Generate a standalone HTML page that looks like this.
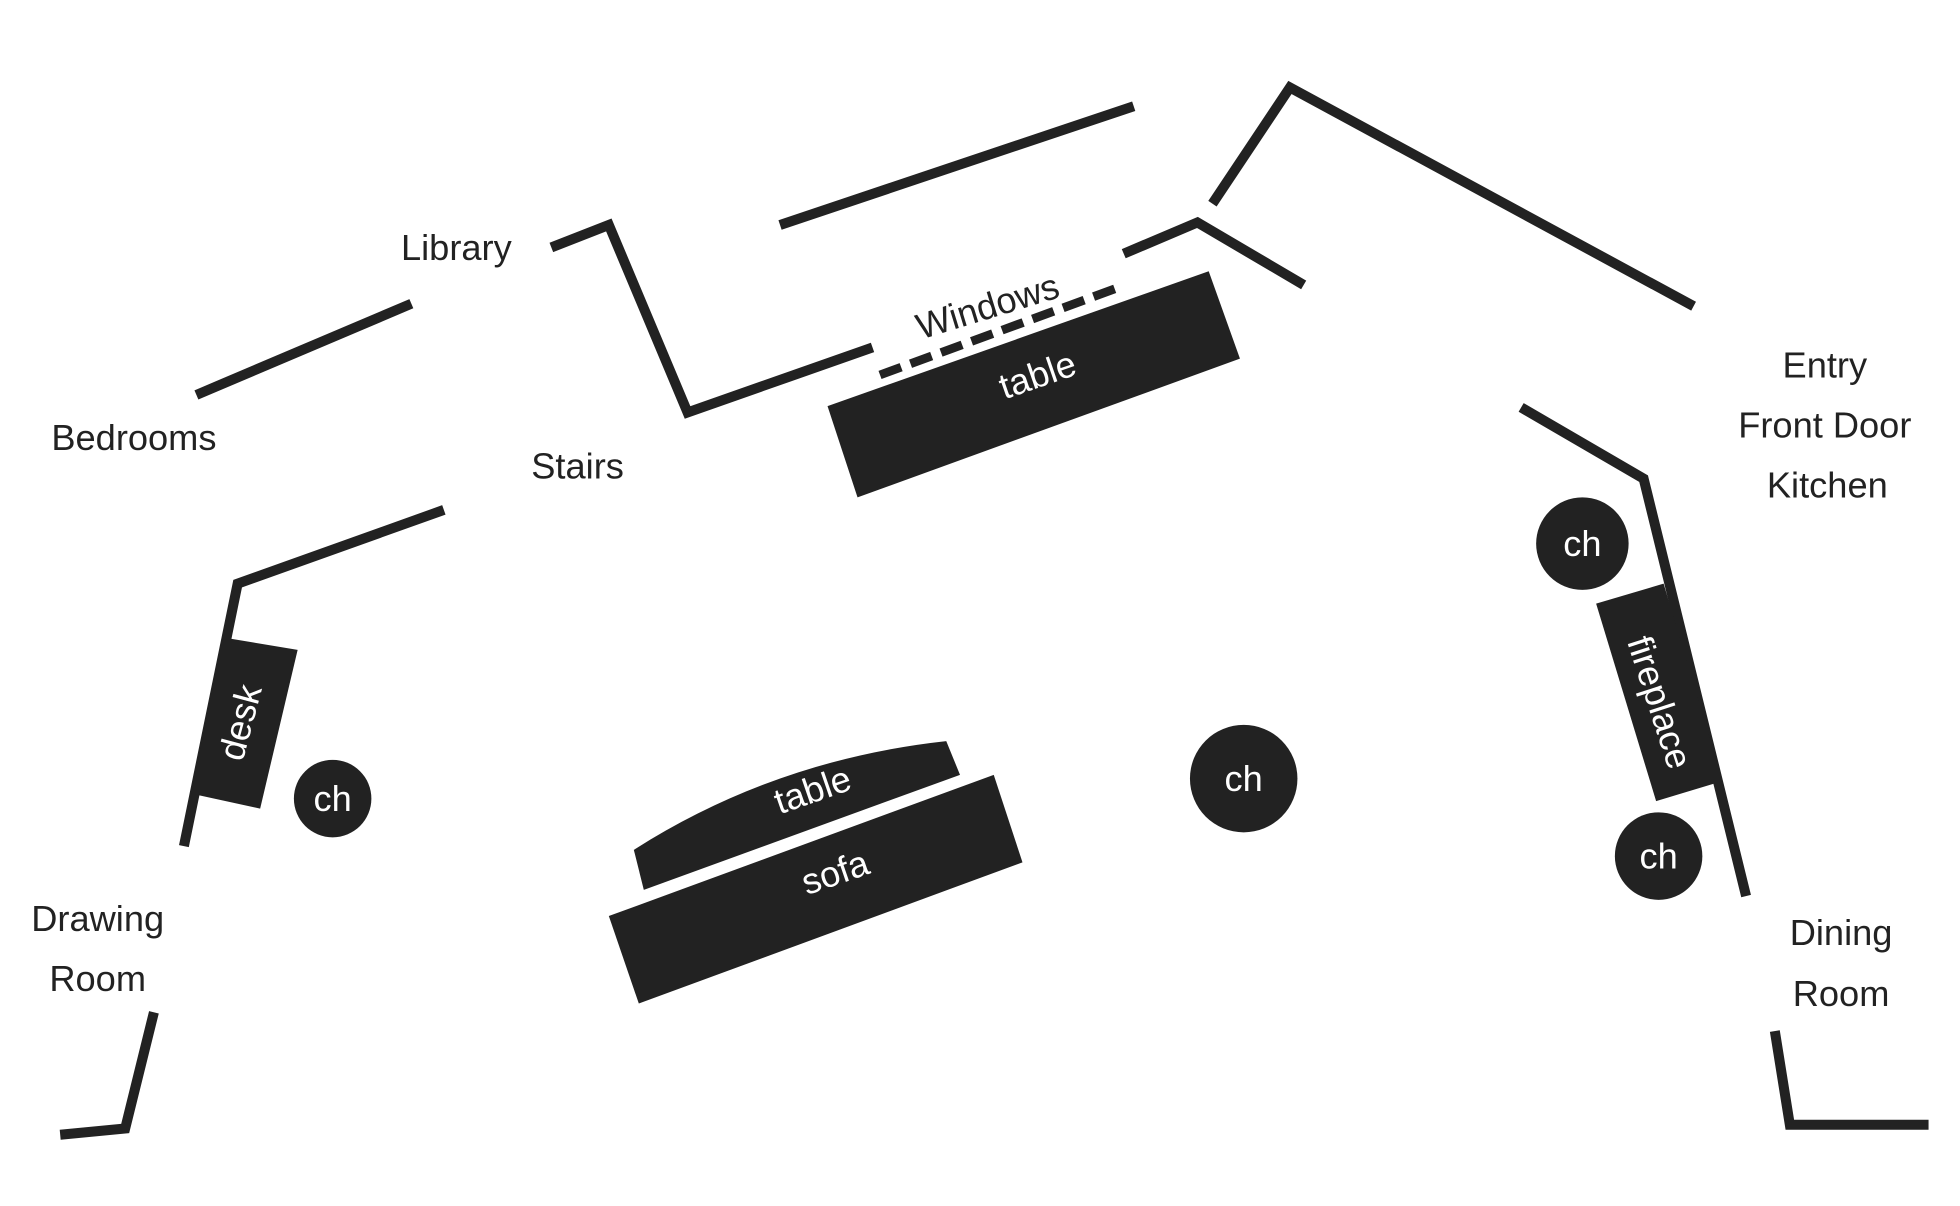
<!DOCTYPE html>
<html><head><meta charset="utf-8"><style>
html,body{margin:0;padding:0;background:#fff;}
svg{display:block;}
text{font-family:"Liberation Sans",sans-serif;font-size:29px;fill:#222;}
.w{fill:#fff;}
</style></head><body>
<svg width="1960" height="1206" viewBox="0 0 1568 965" xmlns="http://www.w3.org/2000/svg">
<g stroke="#222" stroke-width="8" fill="none" stroke-linejoin="miter">
<polyline points="157,316 329,243"/>
<polyline points="441,198 487,180 550,330 698,278"/>
<polyline points="624,180 907,85"/>
<polyline points="899,203 958,178 1043,228"/>
<polyline points="970,163 1032,70 1355,245"/>
<polyline points="1217,326 1315,383 1397,717"/>
<polyline points="355,408 190,467 147,677"/>
<polyline points="123,810 100,903 48,908"/>
<polyline points="1420,825 1432,900 1543,900"/>
<line x1="704" y1="300" x2="895" y2="230" stroke-dasharray="18,8" stroke-width="7"/>
</g>
<g fill="#222">
<polygon points="662,325 967,217 992,287 686,398"/>
<polygon points="178,510 238,520 208,647 153,635"/>
<circle cx="266" cy="639" r="31"/>
<circle cx="995" cy="623" r="43"/>
<circle cx="1266" cy="435" r="37"/>
<circle cx="1327" cy="685" r="35"/>
<polygon points="1277,483 1331,467 1378,625 1325,641"/>
<path d="M515,712 L768,620 L757,593 Q620,608 507,680 Z"/>
<polygon points="487,733 795,620 818,690 511,803"/>
</g>
<text x="365" y="208" text-anchor="middle">Library</text>
<text x="107" y="360" text-anchor="middle">Bedrooms</text>
<text x="462" y="383" text-anchor="middle">Stairs</text>
<text x="790" y="255" text-anchor="middle" transform="rotate(-17 790 245)">Windows</text>
<text x="1460" y="302" text-anchor="middle">Entry</text>
<text x="1460" y="350" text-anchor="middle">Front Door</text>
<text x="1462" y="398" text-anchor="middle">Kitchen</text>
<text x="78" y="745" text-anchor="middle">Drawing</text>
<text x="78" y="793" text-anchor="middle">Room</text>
<text x="1473" y="756" text-anchor="middle">Dining</text>
<text x="1473" y="805" text-anchor="middle">Room</text>
<text class="w" x="830" y="310" text-anchor="middle" transform="rotate(-19 830 300)">table</text>
<text class="w" x="650" y="642" text-anchor="middle" transform="rotate(-19 650 632)">table</text>
<text class="w" x="668" y="708" text-anchor="middle" transform="rotate(-19 668 698)">sofa</text>
<text class="w" x="192" y="588" text-anchor="middle" transform="rotate(-75 192 578)">desk</text>
<text class="w" x="1328" y="572" text-anchor="middle" transform="rotate(72 1328 562)">fireplace</text>
<text class="w" x="266" y="649" text-anchor="middle">ch</text>
<text class="w" x="995" y="633" text-anchor="middle">ch</text>
<text class="w" x="1266" y="445" text-anchor="middle">ch</text>
<text class="w" x="1327" y="695" text-anchor="middle">ch</text>
</svg>
</body></html>
